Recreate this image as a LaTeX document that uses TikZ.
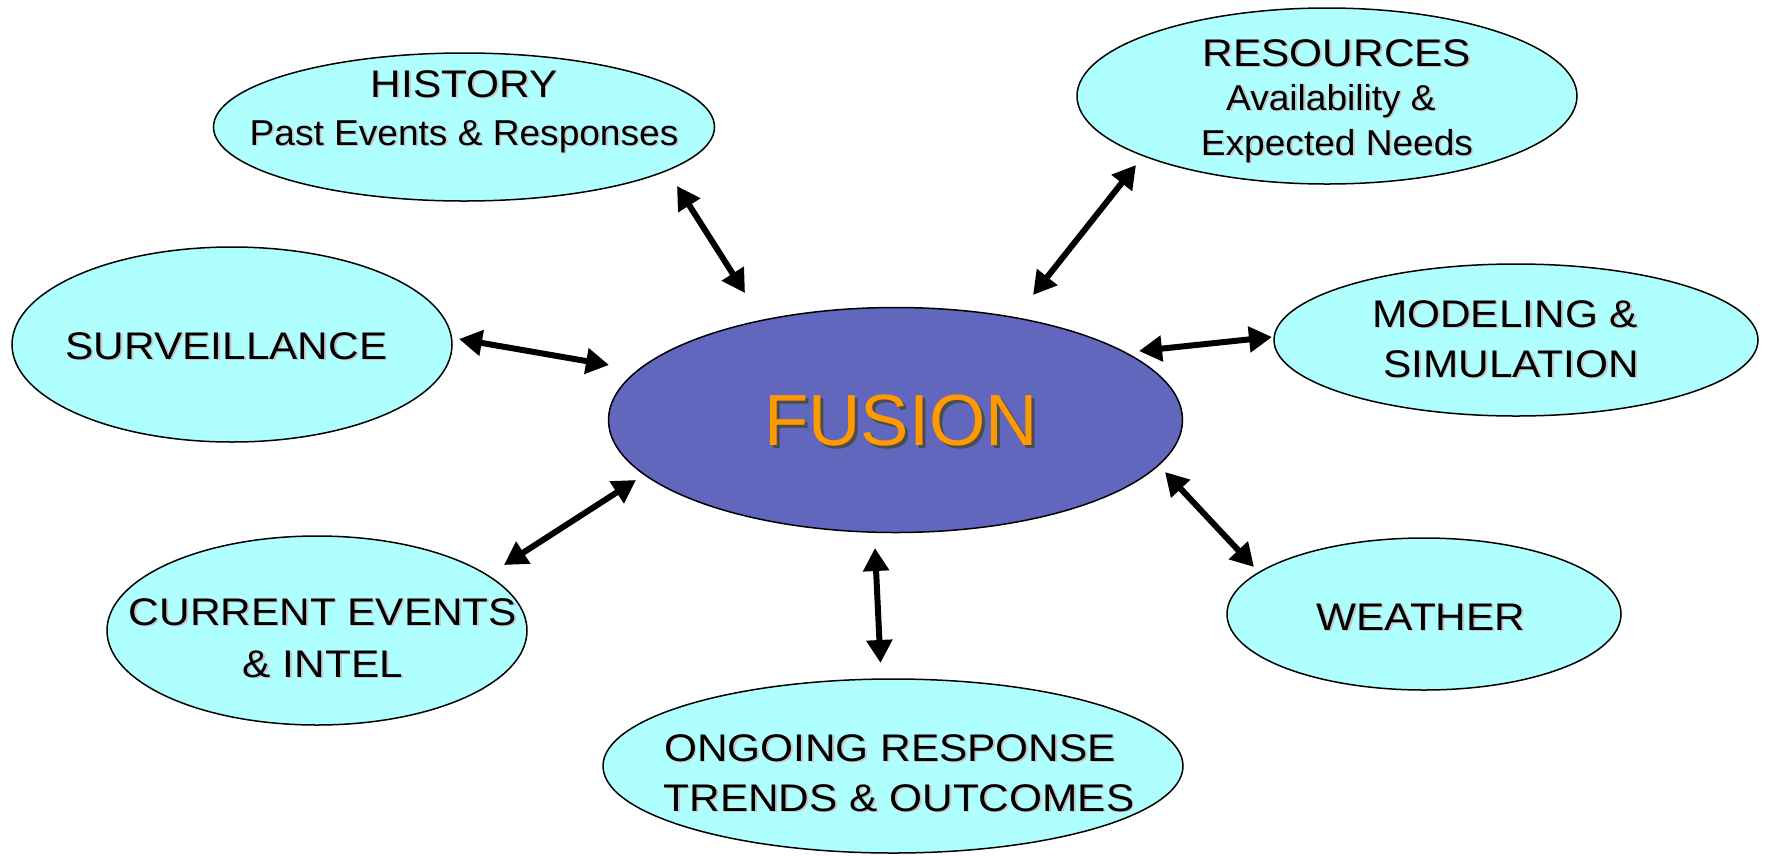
\documentclass[tikz,border=0pt]{standalone}
\usepackage{fontspec}
\setmainfont{Liberation Sans}
\newfontfamily\lblfont[FakeStretch=1.1]{Liberation Sans}
\newfontfamily\subfont[FakeStretch=1.03]{Liberation Sans}
\usetikzlibrary{shapes.geometric,arrows.meta}
\definecolor{bub}{RGB}{176,255,255}
\definecolor{fus}{RGB}{96,103,188}
\definecolor{org}{RGB}{255,153,0}
\newcommand{\shd}[3]{\leavevmode\rlap{\kern#2\raisebox{-#2}{\textcolor{#1}{#3}}}#3}
\tikzset{
  bubble/.style={ellipse, draw=black, line width=1.5pt, fill=bub, inner sep=0pt},
  lbl/.style={anchor=base, inner sep=0pt, font=\lblfont\fontsize{38.5}{46}\selectfont},
  sublbl/.style={anchor=base, inner sep=0pt, font=\subfont\fontsize{36}{44}\selectfont},
  link/.style={line width=6pt, {Triangle[width=25pt,length=23pt]}-{Triangle[width=25pt,length=23pt]}}
}
\begin{document}
\begin{tikzpicture}[x=1pt,y=-1pt]
\useasboundingbox (0,0) rectangle (1767,855);
% ellipses
\node[bubble, fill=fus, minimum width=574pt, minimum height=225pt] (fusion) at (895.5,420) {};
\node[bubble, minimum width=501pt, minimum height=148pt] (history) at (464,127) {};
\node[bubble, minimum width=500pt, minimum height=176pt] (resources) at (1327,96) {};
\node[bubble, minimum width=440pt, minimum height=195pt] (surv) at (232,344.5) {};
\node[bubble, minimum width=484pt, minimum height=152pt] (model) at (1516,340) {};
\node[bubble, minimum width=420pt, minimum height=189pt] (current) at (317,630.5) {};
\node[bubble, minimum width=394pt, minimum height=152pt] (weather) at (1424,614) {};
\node[bubble, minimum width=580pt, minimum height=174pt] (ongoing) at (893,766) {};
% texts
\node[anchor=base, inner sep=0pt, font=\fontsize{72.5}{80}\selectfont, text=org] (fusiont) at (901,445) {\shd{black!70}{3pt}{FUSION}};
\node[lbl] (hist1) at (464,97) {\shd{black!22}{1.8pt}{HISTORY}};
\node[sublbl] (hist2) at (464,145) {\shd{black!22}{1.8pt}{Past Events \& Responses}};
\node[lbl] (res1) at (1337,66) {\shd{black!22}{1.8pt}{RESOURCES}};
\node[sublbl] (res2) at (1331,110) {\shd{black!22}{1.8pt}{Availability \&}};
\node[sublbl] (res3) at (1337,155) {\shd{black!22}{1.8pt}{Expected Needs}};
\node[lbl] (survt) at (226.5,359) {\shd{black!22}{1.8pt}{SURVEILLANCE}};
\node[lbl] (model1) at (1505,327) {\shd{black!22}{1.8pt}{MODELING \&}};
\node[lbl] (model2) at (1511,377) {\shd{black!22}{1.8pt}{SIMULATION}};
\node[lbl] (cur1) at (323,625) {\shd{black!22}{1.8pt}{CURRENT EVENTS}};
\node[lbl] (cur2) at (323,677) {\shd{black!22}{1.8pt}{\& INTEL}};
\node[lbl] (weathert) at (1421,630) {\shd{black!22}{1.8pt}{WEATHER}};
\node[lbl] (ong1) at (890,761) {\shd{black!22}{1.8pt}{ONGOING RESPONSE}};
\node[lbl] (ong2) at (899,811) {\shd{black!22}{1.8pt}{TRENDS \& OUTCOMES}};
% connector end points
\coordinate (hA) at (677,186);   \coordinate (hB) at (745,293);
\coordinate (rA) at (1136,165);  \coordinate (rB) at (1033,295);
\coordinate (sA) at (459,339);   \coordinate (sB) at (609,365);
\coordinate (mA) at (1139,351);  \coordinate (mB) at (1272,337);
\coordinate (wA) at (1165,472);  \coordinate (wB) at (1254,567);
\coordinate (cA) at (636,480);   \coordinate (cB) at (504,565);
\coordinate (oA) at (875,548);   \coordinate (oB) at (880.5,663);
% connectors
\draw[link] (hA) -- (hB);
\draw[link] (rA) -- (rB);
\draw[link] (sA) -- (sB);
\draw[link] (mA) -- (mB);
\draw[link] (wA) -- (wB);
\draw[link] (cA) -- (cB);
\draw[link] (oA) -- (oB);
\end{tikzpicture}
\end{document}
